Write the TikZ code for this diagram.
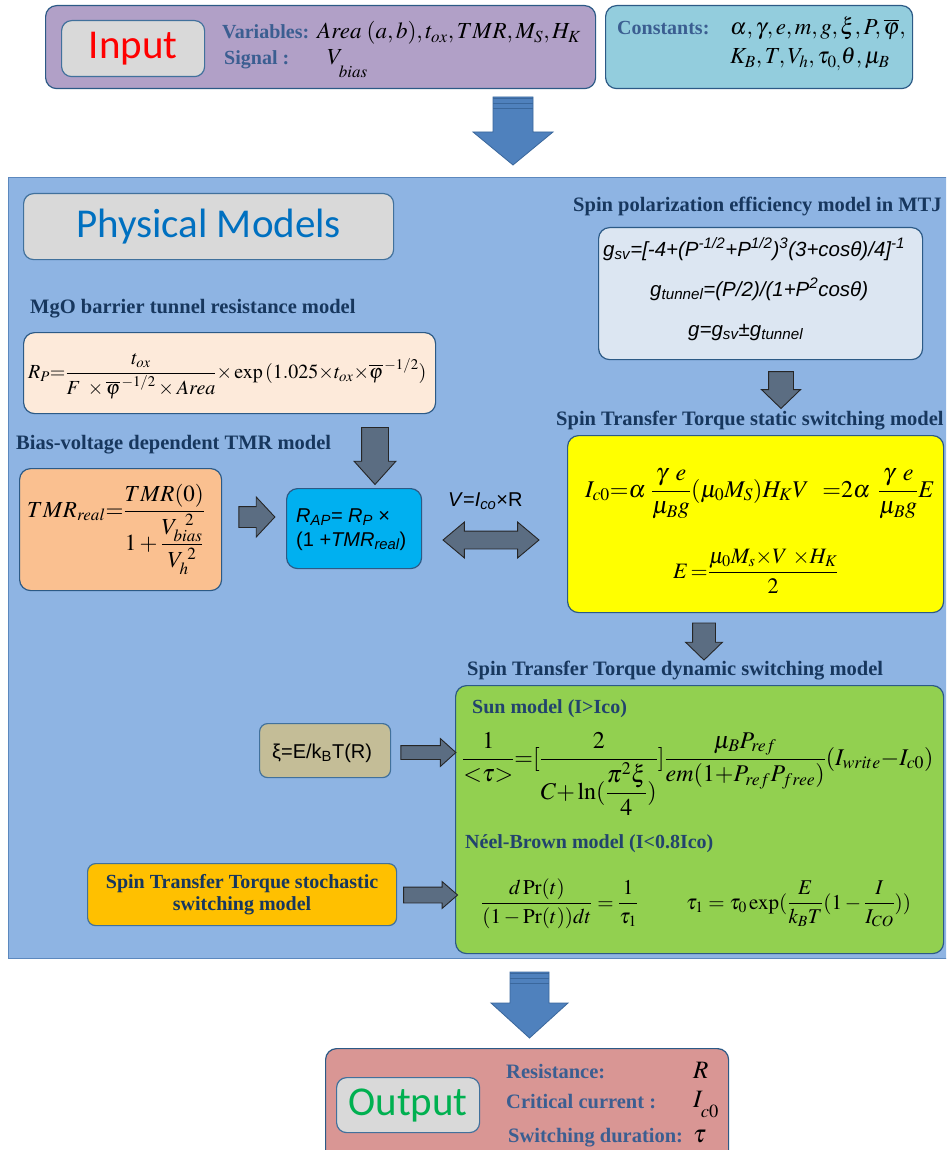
\documentclass[tikz,border=0pt]{standalone}
\usepackage{amsmath}
\usepackage{mathptmx}
\usepackage{fontspec}
\setmainfont{Liberation Serif}
\newfontfamily\arial{Liberation Sans}
\newfontfamily\calibri{Carlito}
\usetikzlibrary{shapes.arrows}
\definecolor{inpurple}{HTML}{B1A0C7}
\definecolor{incyan}{HTML}{93CDDD}
\definecolor{bord}{HTML}{2C5A86}
\definecolor{panelc}{HTML}{8EB4E3}
\definecolor{panelb}{HTML}{5C88BE}
\definecolor{greybox}{HTML}{D9D9D9}
\definecolor{greyb}{HTML}{41719C}
\definecolor{lblue}{HTML}{3B5E91}
\definecolor{hdrc}{HTML}{17375E}
\definecolor{spinbox}{HTML}{DCE6F2}
\definecolor{peach}{HTML}{FDEADA}
\definecolor{tmrc}{HTML}{FAC090}
\definecolor{rapc}{HTML}{00B0F0}
\definecolor{statc}{HTML}{FFFF00}
\definecolor{dync}{HTML}{92D050}
\definecolor{xic}{HTML}{C4BD97}
\definecolor{stochc}{HTML}{FFC000}
\definecolor{outc}{HTML}{D99694}
\definecolor{bigarr}{HTML}{4F81BD}
\definecolor{bigarrb}{HTML}{3A679C}
\definecolor{darr}{HTML}{5B6D82}
\definecolor{inred}{HTML}{FF0000}
\definecolor{outgreen}{HTML}{00B050}
\definecolor{pmblue}{HTML}{0070C0}
\begin{document}
\begin{tikzpicture}[x=1pt,y=-1pt,
  box/.style={draw=bord, line width=1.2pt, rounded corners=11pt, anchor=north west, inner sep=0pt},
  gbox/.style={draw=greyb, line width=1.2pt, fill=greybox, rounded corners=10pt, anchor=north west, inner sep=0pt},
  lbl/.style={font=\fontsize{20}{24}\selectfont\bfseries, text=lblue, inner sep=0pt, anchor=base west},
  hdr/.style={font=\fontsize{20.5}{24}\selectfont\bfseries, text=hdrc, inner sep=0pt, anchor=base west},
  big/.style={font=\calibri\fontsize{41}{44}\selectfont, inner sep=0pt},
  mth/.style={inner sep=0pt, anchor=base west, font=\fontsize{#1}{#1}\selectfont},
  sans/.style={inner sep=0pt, anchor=base west, font=\arial\itshape\fontsize{#1}{#1}\selectfont},
  darkarrow/.style={single arrow, draw=black!85, fill=darr, line width=0.9pt, inner sep=0pt, outer sep=0pt},
  bigstripe/.style={draw=bigarrb, line width=1.3pt}
]
\useasboundingbox (0,0) rectangle (946,1150);
\clip (0,0) rectangle (946,1150);
\fill[white] (0,0) rectangle (946,1150);

% ---------------- Input ----------------
\node[box, fill=inpurple, minimum width=550pt, minimum height=83pt] (input) at (45,5) {};
\node[gbox, minimum width=143pt, minimum height=56pt] (inlab) at (61,20) {};
\node[big, text=inred] (intext) at (inlab.center) {Input};
\node[lbl] (varl) at (222,39) {Variables:};
\node[mth=23] (varm) at (317,39) {$Area\;(a,b), t_{ox}, TMR, M_{S}, H_{K}$};
\node[lbl] (sigl) at (224,65) {Signal :};
\node[mth=23] (sigm) at (327,65) {$V_{\raisebox{-9pt}{$\scriptstyle bias$}}$};

\node[box, fill=incyan, minimum width=307pt, minimum height=83pt] (const) at (605,5) {};
\node[lbl] (constl) at (617,35) {Constants:};
\node[mth=23] (constm1) at (730,35) {$\alpha,\gamma,e,m,g,\xi,P,\overline{\varphi},$};
\node[mth=23] (constm2) at (730,64) {$K_{B},T,V_{h},\tau_{0,}\theta,\mu_{B}$};

% big arrow top
\filldraw[fill=bigarr, draw=bigarrb, line width=0.8pt] (493,97) -- (533,97) -- (533,132) -- (553,132) -- (513,165) -- (473,132) -- (493,132) -- cycle;
\draw[bigstripe] (493,98.5) -- (533,98.5);
\draw[bigstripe] (493,103.5) -- (533,103.5);
\draw[bigstripe] (493,108.5) -- (533,108.5);

% ---------------- Physical models panel ----------------
\node[draw=panelb, fill=panelc, line width=1.3pt, anchor=north west, inner sep=0pt, minimum width=960pt, minimum height=781pt] (panel) at (8,177) {};
\node[gbox, minimum width=370pt, minimum height=66pt] (pmlab) at (23,193) {};
\node[big, text=pmblue] (pmtext) at (pmlab.center) {Physical Models};

% spin polarization
\node[hdr] (spinh) at (573,212) {Spin polarization efficiency model in MTJ};
\node[box, fill=spinbox, minimum width=324pt, minimum height=132pt] (spin) at (598,227) {};
\node[sans=20.5] (sp1) at (603,256) {g\textsubscript{sv}=[-4+(P\textsuperscript{-1/2}+P\textsuperscript{1/2})\textsuperscript{3}(3+cosθ)/4]\textsuperscript{-1}};
\node[sans=20.5] (sp2) at (650,296) {g\textsubscript{tunnel}=(P/2)/(1+P\textsuperscript{2}cosθ)};
\node[sans=20.5] (sp3) at (688,336) {g=g\textsubscript{sv}±g\textsubscript{tunnel}};

% MgO
\node[hdr] (mgoh) at (30,313) {MgO barrier tunnel resistance model};
\node[box, fill=peach, minimum width=412pt, minimum height=81pt] (mgo) at (23,332) {};
\node[mth=20] (mgof) at (28,378) {$R_{P}{=}\dfrac{t_{ox}}{F\;\times\overline{\varphi}^{\,-1/2}\times Area}{\times}\exp\,(1.025{\times}t_{ox}{\times}\overline{\varphi}^{\,-1/2})$};

% TMR
\node[hdr] (tmrh) at (16,449) {Bias-voltage dependent TMR model};
\node[box, fill=tmrc, minimum width=202pt, minimum height=122pt] (tmr) at (19,468) {};
\node[mth=23] (tmrf) at (27,517) {$TMR_{real}{=}\dfrac{TMR(0)}{1+\dfrac{V_{bias}^{\;\;2}}{V_{h}^{\;2}}}$};

% RAP
\node[box, fill=rapc, minimum width=135pt, minimum height=80pt] (rap) at (286,488) {};
\node[sans=20] (rap1) at (296,522) {R\textsubscript{AP}= R\textsubscript{P} {\upshape ×}};
\node[sans=20] (rap2) at (296,546) {{\upshape(1 +}TMR\textsubscript{real}{\upshape)}};
\node[inner sep=0pt, anchor=base west, font=\arial\fontsize{20}{20}\selectfont] (vlab) at (448,506) {\textit{V}=\textit{I}\textsubscript{\textit{co}}×R};

% static switching
\node[hdr] (stath) at (556,425) {Spin Transfer Torque static switching model};
\node[box, fill=statc, minimum width=376pt, minimum height=177pt] (stat) at (567,435) {};
\node[mth=24] (statf) at (585,497) {$I_{c0}{=}\alpha\;\dfrac{\gamma\;\,e}{\mu_{B}g}(\mu_{0}M_{S})H_{K}V\;\;\,{=}2\alpha\;\,\dfrac{\gamma\;\,e}{\mu_{B}g}E$};
\node[mth=22] (statE) at (673,578) {$E\,{=}\dfrac{\mu_{0}M_{s}{\times}V\;{\times}H_{K}}{2}$};

% dynamic switching
\node[hdr] (dynh) at (467,675) {Spin Transfer Torque dynamic switching model};
\node[box, fill=dync, minimum width=488pt, minimum height=268pt] (dyn) at (455,685) {};
\node[lbl, text=hdrc!70!lblue] (sunl) at (472,713) {Sun model (I>Ico)};
\node[mth=24] (sunf) at (462,765) {$\dfrac{1}{{<}\tau{>}}{=}[\dfrac{2}{C{+}\ln(\dfrac{\pi^{2}\xi}{4})}]\dfrac{\mu_{B}P_{ref}}{em(1{+}P_{ref}P_{free})}(I_{write}{-}I_{c0})$};
\node[lbl, text=hdrc!70!lblue] (neell) at (465,848) {Néel-Brown model (I<0.8Ico)};
\node[mth=21] (neelf1) at (481,909) {$\dfrac{d\,\mathrm{Pr}(t)}{(1-\mathrm{Pr}(t))dt}=\dfrac{1}{\tau_{1}}$};
\node[mth=21] (neelf2) at (686,909) {$\tau_{1}=\tau_{0}\exp(\dfrac{E}{k_{B}T}(1-\dfrac{I}{I_{CO}}))$};

% xi and stochastic boxes
\node[box, draw=greyb, fill=xic, minimum width=131pt, minimum height=54pt, rounded corners=8pt] (xi) at (259,723) {};
\node[inner sep=0pt, anchor=base west, font=\arial\fontsize{20}{20}\selectfont] (xit) at (272,758) {ξ=E/k\textsubscript{B}T(R)};
\node[box, draw=greyb, fill=stochc, minimum width=309pt, minimum height=62pt, rounded corners=8pt] (stoch) at (87,863) {};
\node[inner sep=0pt, align=center, text=hdrc, font=\fontsize{20}{22}\selectfont\bfseries] (stocht) at (stoch.center) {Spin Transfer Torque stochastic\\switching model};

% dark block arrows
\node[darkarrow, rotate=-90, minimum height=57pt, inner sep=13pt, single arrow head extend=7.5pt, single arrow tip angle=84] (a1) at (375,448.5) {};
\node[darkarrow, minimum height=36pt, inner sep=10pt, single arrow head extend=9.5pt, single arrow tip angle=94] (a2) at (252,517) {};
\node[darkarrow, double arrow, minimum height=96pt, inner sep=8.5pt, double arrow head extend=9pt, double arrow tip angle=80] (a3) at (491,540) {};
\node[darkarrow, rotate=-90, minimum height=33pt, inner sep=12pt, single arrow head extend=7pt, single arrow tip angle=92] (a4) at (781,384) {};
\node[darkarrow, rotate=-90, minimum height=37pt, inner sep=11pt, single arrow head extend=7pt, single arrow tip angle=92] (a5) at (704,636) {};
\node[darkarrow, minimum height=55pt, inner sep=6.5pt, single arrow head extend=7pt, single arrow tip angle=84] (a6) at (424.5,752.5) {};
\node[darkarrow, minimum height=54pt, inner sep=7.5pt, single arrow head extend=5.5pt, single arrow tip angle=82] (a7) at (426,895) {};

% big arrow bottom
\filldraw[fill=bigarr, draw=bigarrb, line width=0.8pt] (510,972) -- (549,972) -- (549,1003) -- (568,1003) -- (529.5,1038) -- (491,1003) -- (510,1003) -- cycle;
\draw[bigstripe] (510,973.5) -- (549,973.5);
\draw[bigstripe] (510,978.5) -- (549,978.5);
\draw[bigstripe] (510,983.5) -- (549,983.5);

% ---------------- Output ----------------
\node[box, fill=outc, minimum width=403pt, minimum height=120pt] (output) at (325,1048) {};
\node[gbox, minimum width=143pt, minimum height=55pt] (outlab) at (336,1077) {};
\node[big, text=outgreen] (outtext) at (outlab.center) {Output};
\node[lbl, font=\fontsize{20.5}{24}\selectfont\bfseries] (resl) at (506,1078) {Resistance:};
\node[lbl, font=\fontsize{20.5}{24}\selectfont\bfseries] (critl) at (506,1108) {Critical current :};
\node[lbl, font=\fontsize{20.5}{24}\selectfont\bfseries] (swl) at (508,1142) {Switching duration:};
\node[mth=25] (resm) at (693,1078) {$R$};
\node[mth=25] (critm) at (693,1107) {$I_{\raisebox{-7pt}{$\scriptstyle c0$}}$};
\node[mth=25] (swm) at (693,1142) {$\tau$};
\end{tikzpicture}
\end{document}
